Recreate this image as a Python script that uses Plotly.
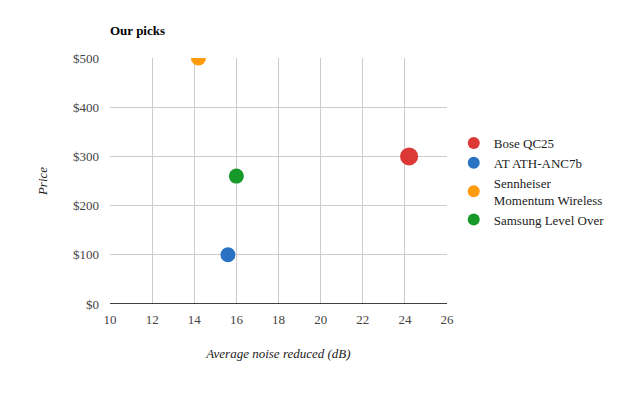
import plotly.graph_objects as go

names = ["Bose QC25", "AT ATH-ANC7b", "Sennheiser<br>Momentum Wireless", "Samsung Level Over"]
noise_db = [24.2, 15.6, 14.2, 16.0]
price = [300, 100, 500, 260]
colors = ["#dc3836", "#2a72c3", "#ff9b0d", "#179a2a"]
sizes = [18, 15, 15, 15]

x_ticks = [10, 12, 14, 16, 18, 20, 22, 24, 26]
y_ticks = [0, 100, 200, 300, 400, 500]
y_tick_labels = ["$0", "$100", "$200", "$300", "$400", "$500"]

FONT = "Liberation Serif, DejaVu Serif, serif"

fig = go.Figure()
for i, (n, x, y, c, s) in enumerate(zip(names, noise_db, price, colors, sizes)):
    fig.add_trace(go.Scatter(
        x=[x], y=[y], mode="markers", name=n, legendgroup=f"g{i}",
        marker=dict(color=c, size=s, line=dict(width=0)),
    ))

# body margin of 8px shifts the figure; margins compensate
fig.update_layout(
    width=635, height=399,
    margin=dict(l=102, r=196, t=50, b=103),
    paper_bgcolor="white", plot_bgcolor="white",
    font=dict(family=FONT, size=13, color="#222"),
    title=dict(text="<b>Our picks</b>", x=102/635, xanchor="left",
               y=1 - 22/399, yanchor="middle",
               font=dict(family=FONT, size=13, color="#000")),
    showlegend=True,
    legend=dict(x=1.02, xanchor="left", y=(304-128)/246, yanchor="top",
                font=dict(family=FONT, size=13, color="#222"),
                itemsizing="constant", traceorder="grouped", tracegroupgap=0,
                bgcolor="rgba(0,0,0,0)"),
    xaxis=dict(range=[10, 26], tickvals=x_ticks, showgrid=True,
               gridcolor="#cccccc", gridwidth=1, zeroline=False,
               showline=False, ticks="", ticklen=0, ticklabelstandoff=6,
               tickfont=dict(family=FONT, size=13, color="#444"),
               title=dict(text="<i>Average noise reduced (dB)</i>", standoff=22,
                          font=dict(family=FONT, size=13, color="#222"))),
    yaxis=dict(range=[0, 500], tickvals=y_ticks, ticktext=y_tick_labels,
               showgrid=True, gridcolor="#cccccc", gridwidth=1,
               zeroline=False, showline=False, ticks="", ticklen=0,
               ticklabelstandoff=10,
               tickfont=dict(family=FONT, size=13, color="#444"),
               title=dict(text="<i>Price</i>", standoff=22,
                          font=dict(family=FONT, size=13, color="#222"))),
)
# baseline (black) along the bottom of the plot
fig.add_shape(type="line", xref="paper", yref="y", x0=0, x1=1, y0=0, y1=0,
              line=dict(color="#000000", width=1.5), layer="above")

fig.write_html("out.html")
